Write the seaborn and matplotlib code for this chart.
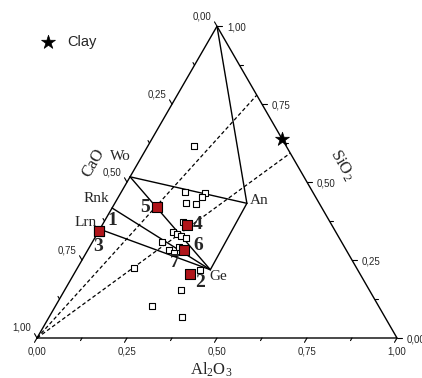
import numpy as np
import pandas as pd
import matplotlib
matplotlib.use("Agg")
import matplotlib.pyplot as plt
import seaborn as sns

# --- Données : fractions massiques (CaO, Al2O3, SiO2) ---
# échantillons (carrés vides)
open_cao = [0.256, 0.355, 0.301, 0.316, 0.370, 0.343, 0.408, 0.452, 0.444, 0.436,
            0.426, 0.499, 0.460, 0.492, 0.483, 0.438, 0.618, 0.523, 0.629, 0.564]
open_al = [0.128, 0.177, 0.234, 0.232, 0.197, 0.227, 0.220, 0.208, 0.222, 0.237,
           0.253, 0.193, 0.248, 0.226, 0.244, 0.344, 0.157, 0.323, 0.268, 0.369]
open_si = [0.616, 0.468, 0.465, 0.452, 0.433, 0.430, 0.372, 0.340, 0.334, 0.327,
           0.321, 0.308, 0.292, 0.282, 0.273, 0.218, 0.225, 0.154, 0.103, 0.067]

# échantillons numérotés (carrés rouges)
red_ids = ['1', '3', '5', '4', '6', '2']
red_cao = [0.658, 0.658, 0.457, 0.402, 0.451, 0.473]
red_al = [0.000, 0.000, 0.123, 0.236, 0.267, 0.322]
red_si = [0.342, 0.342, 0.420, 0.362, 0.282, 0.205]

# argile
clay_cao = [0.0]
clay_al = [0.362]
clay_si = [0.638]

# phases minérales
min_names = ['Wo', 'Rnk', 'Lrn', 'An', 'Ge']
min_cao = [0.483, 0.583, 0.651, 0.201, 0.409]
min_al = [0.000, 0.000, 0.000, 0.367, 0.372]
min_si = [0.517, 0.417, 0.349, 0.432, 0.219]

# lignes de mélange (CaO -> point du côté Al2O3-SiO2)
mix_al = [0.221, 0.407]
mix_si = [0.779, 0.593]

tick_vals = [0.0, 0.25, 0.5, 0.75, 1.0]
tick_labels = ['0,00', '0,25', '0,50', '0,75', '1,00']

H = np.sqrt(3) / 2


def tern_xy(al, si):
    al = np.asarray(al, dtype=float)
    si = np.asarray(si, dtype=float)
    return al + si / 2, si * H


def px2pt(dx, dy):
    # décalage en pixels (y vers le bas) -> points
    return dx * 0.72, -dy * 0.72


sns.set_style("white")
plt.rcParams['mathtext.fontset'] = 'custom'
plt.rcParams['mathtext.rm'] = 'Liberation Serif'
plt.rcParams['mathtext.it'] = 'Liberation Serif:italic'

fig = plt.figure(figsize=(4.22, 3.78), dpi=100)
ax = fig.add_axes([37 / 422, 40 / 378, 360 / 422, 360 * H / 378])
ax.set_xlim(0, 1)
ax.set_ylim(0, H)
ax.set_axis_off()

# triangle
tri_x, tri_y = tern_xy([0, 1, 0, 0], [0, 0, 1, 0])
ax.plot(tri_x, tri_y, color='black', lw=1.0, clip_on=False)

# graduations
serif = 'Liberation Serif'
sans = 'Liberation Sans'
L = 5 / 360
for v in np.arange(0, 1.0001, 0.125):
    major = abs(v * 4 - round(v * 4)) < 1e-6
    ln = L if major else L * 0.6
    # Al2O3 (base)
    bx, by = tern_xy(v, 0)
    ax.plot([bx, bx - 0.5 * ln], [by, by - H * ln], color='black', lw=0.8, clip_on=False)
    # CaO (côté gauche) : CaO = v, Al = 0
    lx, ly = tern_xy(0, 1 - v)
    ax.plot([lx, lx - 0.5 * ln], [ly, ly + H * ln], color='black', lw=0.8, clip_on=False)
    # SiO2 (côté droit) : Si = v, Ca = 0
    rx, ry = tern_xy(1 - v, v)
    ax.plot([rx, rx + ln], [ry, ry], color='black', lw=0.8, clip_on=False)

for v, lab in zip(tick_vals, tick_labels):
    bx, by = tern_xy(v, 0)
    ax.annotate(lab, (bx, by), xytext=px2pt(0, 14), textcoords='offset points',
                ha='center', va='center', fontsize=7, family=sans, annotation_clip=False)
    lx, ly = tern_xy(0, 1 - v)
    ax.annotate(lab, (lx, ly), xytext=px2pt(-15, -10), textcoords='offset points',
                ha='center', va='center', fontsize=7, family=sans, annotation_clip=False)
    rx, ry = tern_xy(1 - v, v)
    ax.annotate(lab, (rx, ry), xytext=px2pt(10, 1), textcoords='offset points',
                ha='left', va='center', fontsize=7, family=sans, annotation_clip=False)

# lignes de mélange en pointillés
cx, cy = tern_xy(0, 0)
for a, s in zip(mix_al, mix_si):
    mx, my = tern_xy(a, s)
    ax.plot([cx, mx], [cy, my], color='black', lw=0.9, ls=(0, (3, 2)))

# joints entre phases
mins = dict(zip(min_names, zip(min_al, min_si)))
mins['SiO2'] = (0.0, 1.0)
links = [('Wo', 'An'), ('An', 'Ge'), ('Wo', 'Ge'), ('Rnk', 'Ge'), ('Lrn', 'Ge'), ('SiO2', 'An')]
for p, q in links:
    x1, y1 = tern_xy(*mins[p])
    x2, y2 = tern_xy(*mins[q])
    ax.plot([x1, x2], [y1, y2], color='black', lw=1.0)

# points
ox, oy = tern_xy(open_al, open_si)
df_open = pd.DataFrame({'x': ox, 'y': oy})
sns.scatterplot(data=df_open, x='x', y='y', marker='s', s=24, color='white',
                edgecolor='black', linewidth=0.8, ax=ax, zorder=3)

rx_, ry_ = tern_xy(red_al, red_si)
df_red = pd.DataFrame({'x': rx_, 'y': ry_, 'id': red_ids})
sns.scatterplot(data=df_red, x='x', y='y', marker='s', s=55, color='#b0151a',
                edgecolor='black', linewidth=0.8, ax=ax, zorder=4)

kx, ky = tern_xy(clay_al, clay_si)
sns.scatterplot(x=kx, y=ky, marker='*', s=110, color='black', edgecolor='black',
                linewidth=0.5, ax=ax, zorder=5, label='Clay', clip_on=False)

leg = ax.legend(loc='center left', bbox_to_anchor=(41 / 422, 1 - 42 / 378),
                bbox_transform=fig.transFigure, frameon=False, borderpad=0,
                borderaxespad=0, handlelength=1.0, handletextpad=0.8,
                prop={'family': sans, 'size': 10.5})

# étiquettes des phases
min_off = {'Wo': (-10, -20), 'Rnk': (-16, -9), 'Lrn': (-14, -7), 'An': (12, -3), 'Ge': (8, 7)}
for name, a, s in zip(min_names, min_al, min_si):
    x, y = tern_xy(a, s)
    ax.annotate(name, (x, y), xytext=px2pt(*min_off[name]), textcoords='offset points',
                ha='center', va='center', fontsize=11, family=serif)

# numéros des échantillons
id_off = {'1': (14, -11), '3': (0, 15), '5': (-12, 0), '4': (11, -1), '6': (14, -5), '2': (10, 8)}
for _, row in df_red.iterrows():
    ax.annotate(row['id'], (row['x'], row['y']), xytext=px2pt(*id_off[row['id']]),
                textcoords='offset points', ha='center', va='center',
                fontsize=14, family=serif, fontweight='bold')
r6 = df_red[df_red['id'] == '6'].iloc[0]
ax.annotate('7', (r6['x'], r6['y']), xytext=px2pt(-9, 12), textcoords='offset points',
            ha='center', va='center', fontsize=14, family=serif, fontweight='bold')

# noms des axes
fig.text(93 / 422, 1 - 163 / 378, 'CaO', rotation=60, ha='center', va='center',
         fontsize=12, family=serif)
fig.text(342 / 422, 1 - 165 / 378, 'SiO$_2$', rotation=-60, ha='center', va='center',
         fontsize=12, family=serif)
fig.text(211 / 422, 1 - 370 / 378, 'Al$_2$O$_3$', ha='center', va='center',
         fontsize=12, family=serif)

fig.savefig('out.png', dpi=100)
